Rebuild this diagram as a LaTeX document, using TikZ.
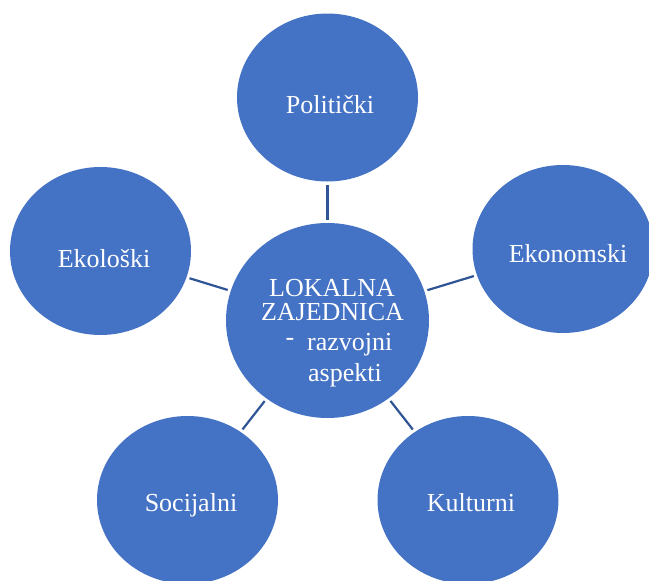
\documentclass[tikz,border=0pt]{standalone}
\usepackage{fontspec}
\setmainfont{Liberation Serif}
\usetikzlibrary{shapes.geometric}
\definecolor{circblue}{HTML}{4472C4}
\definecolor{linkblue}{HTML}{2F5597}
\tikzset{
  bubble/.style={ellipse, fill=circblue, inner sep=0pt, minimum width=181pt, minimum height=168pt},
  hub/.style={ellipse, fill=circblue, inner sep=0pt, minimum width=203pt, minimum height=195pt},
  lbl/.style={text=white, font=\fontsize{26}{30}\selectfont, inner sep=0pt, anchor=base},
  link/.style={draw=linkblue, line width=2.2pt, shorten >=3pt, shorten <=3pt}
}
\begin{document}
\begin{tikzpicture}[x=1pt,y=-1pt]
\clip (0,0) rectangle (649,581);
\fill[white] (0,0) rectangle (649,581);
% hub and satellites
\node[hub] (c) at (327.5,320.5) {};
\node[bubble] (pol) at (327.5,97.5) {};
\node[bubble] (eko) at (563,249) {};
\node[bubble] (ekl) at (100.5,251) {};
\node[bubble] (soc) at (187.5,500) {};
\node[bubble] (kul) at (468,500) {};
% connectors
\draw[link] (c) -- (pol);
\draw[link] (c) -- (eko);
\draw[link] (c) -- (ekl);
\draw[link] (c) -- (soc);
\draw[link] (c) -- (kul);
% labels
\node[lbl] (tpol) at (330,113) {Politički};
\node[lbl] (teko) at (568,262) {Ekonomski};
\node[lbl] (tekl) at (104,267) {Ekološki};
\node[lbl] (tsoc) at (191,511) {Socijalni};
\node[lbl] (tkul) at (471,511) {Kulturni};
\node[lbl] (t1) at (332,296) {LOKALNA};
\node[lbl] (t2) at (332.5,320) {ZAJEDNICA};
\node[lbl, anchor=base west] (t3) at (307,350) {razvojni};
\node[lbl, anchor=base west] (t4) at (308,381) {aspekti};
\node[lbl] (t5) at (290,345) {-};
\end{tikzpicture}
\end{document}
